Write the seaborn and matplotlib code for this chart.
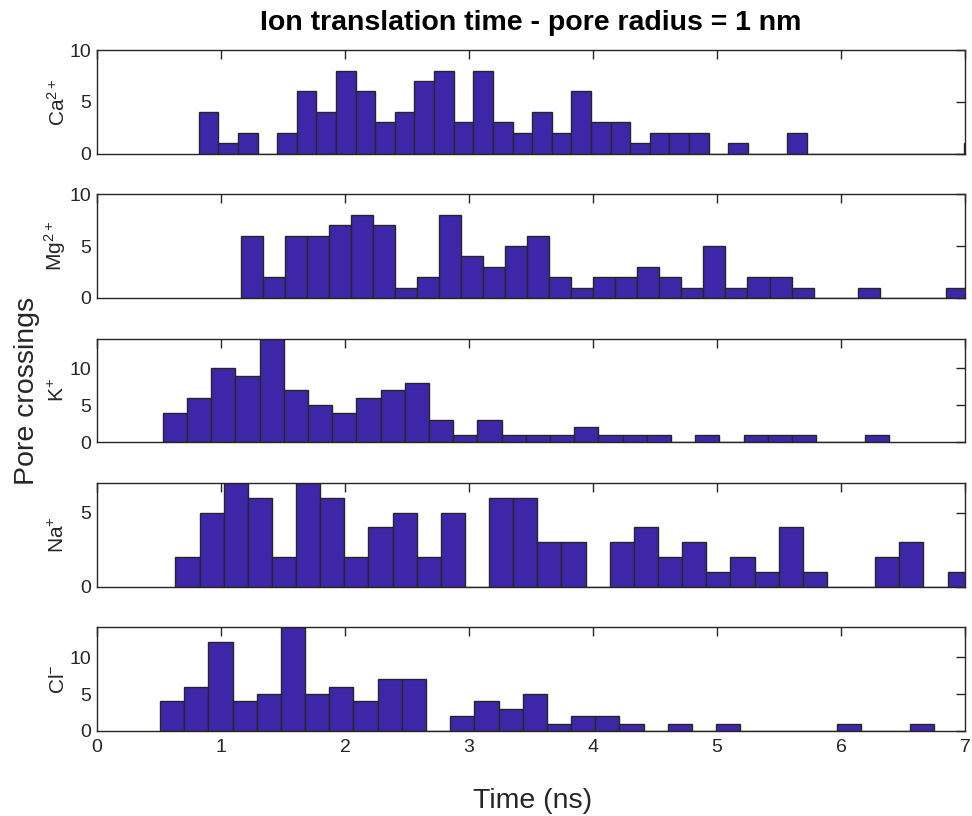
"""
Ion translation time histograms (pore radius = 1 nm)
Five stacked panels, one per ion species, shared time axis.
"""

import numpy as np
import pandas as pd
import matplotlib
matplotlib.use("Agg")
import matplotlib.pyplot as plt
import seaborn as sns

sns.set_theme(style="white", context="paper")
plt.rcParams['font.family'] = ['Liberation Sans', 'DejaVu Sans']
plt.rcParams['mathtext.default'] = 'regular'

# --- Data (counts per bin) ---
ions = ["Ca$^{2+}$", "Mg$^{2+}$", "K$^{+}$", "Na$^{+}$", "Cl$^{-}$"]

ca_counts = [4, 1, 2, 0, 2, 6, 4, 8, 6, 3, 4, 7, 8, 3, 8, 3, 2, 4, 2, 6,
             3, 3, 1, 2, 2, 2, 0, 1, 0, 0, 2, 0, 0, 0, 0, 0, 0, 0, 0, 1]
mg_counts = [6, 2, 6, 6, 7, 8, 7, 1, 2, 8, 4, 3, 5, 6, 2, 1, 2, 2, 3, 2,
             1, 5, 1, 2, 2, 1, 0, 0, 1, 0, 0, 0, 1]
k_counts = [4, 6, 10, 9, 14, 7, 5, 4, 6, 7, 8, 3, 1, 3, 1, 1, 1, 2, 1, 1,
            1, 0, 1, 0, 1, 1, 1, 0, 0, 1]
na_counts = [2, 5, 7, 6, 2, 7, 6, 2, 4, 5, 2, 5, 0, 6, 6, 3, 3, 0, 3, 4,
             2, 3, 1, 2, 1, 4, 1, 0, 0, 2, 3, 0, 1]
cl_counts = [4, 6, 12, 4, 5, 14, 5, 6, 4, 7, 7, 0, 2, 4, 3, 5, 1, 2, 2, 1,
             0, 1, 0, 1, 0, 0, 0, 0, 1, 0, 0, 1]

# first bin edge and bin width (ns) of each histogram
bin_start = [0.820, 1.161, 0.530, 0.632, 0.508]
bin_width = [0.1582, 0.1776, 0.1952, 0.1946, 0.1950]

y_max = [10, 10, 14, 7, 14]
y_ticks = [[0, 5, 10], [0, 5, 10], [0, 5, 10], [0, 5], [0, 5, 10]]
x_ticks = [0, 1, 2, 3, 4, 5, 6, 7]

all_counts = [ca_counts, mg_counts, k_counts, na_counts, cl_counts]

BAR_COLOR = "#3E26A8"
EDGE_COLOR = "#262626"

fig, axes = plt.subplots(5, 1, figsize=(9.72, 8.16), dpi=100, sharex=True)
fig.subplots_adjust(left=0.0998, right=0.9928, top=0.9387, bottom=0.1042, hspace=0.395)

for i, ax in enumerate(axes):
    counts = all_counts[i]
    edges = bin_start[i] + bin_width[i] * np.arange(len(counts) + 1)
    df = pd.DataFrame({'t': (edges[:-1] + edges[1:]) / 2, 'n': counts})
    sns.histplot(data=df, x='t', weights='n', bins=list(edges), ax=ax,
                 color=BAR_COLOR, edgecolor=EDGE_COLOR, linewidth=1.0, alpha=1.0)

    ax.set_xlim(0, 7)
    ax.set_ylim(0, y_max[i])
    ax.set_yticks(y_ticks[i])
    ax.set_xticks(x_ticks)
    ax.set_ylabel(ions[i], fontsize=15, color="#262626")
    ax.yaxis.set_label_coords(-0.033, 0.5)
    ax.set_xlabel("")
    ax.tick_params(axis='both', direction='in', length=6.5, width=1.0,
                   top=True, right=True, labelsize=14, colors="#262626", pad=4)
    if i < 4:
        ax.tick_params(labelbottom=False)
    else:
        ax.tick_params(axis='x', pad=6)
    for sp in ax.spines.values():
        sp.set_visible(True)
        sp.set_color("#262626")
        sp.set_linewidth(1.0)

fig.text(0.546, 0.972, "Ion translation time - pore radius = 1 nm",
         ha='center', va='center', fontsize=20.5, fontweight='bold', color="#000000")
fig.text(0.028, 0.521, "Pore crossings", rotation=90, ha='center', va='center',
         fontsize=20.5, color="#262626")
fig.text(0.548, 0.018, "Time (ns)", ha='center', va='center', fontsize=20.5, color="#262626")

plt.savefig("out.png", dpi=100)
